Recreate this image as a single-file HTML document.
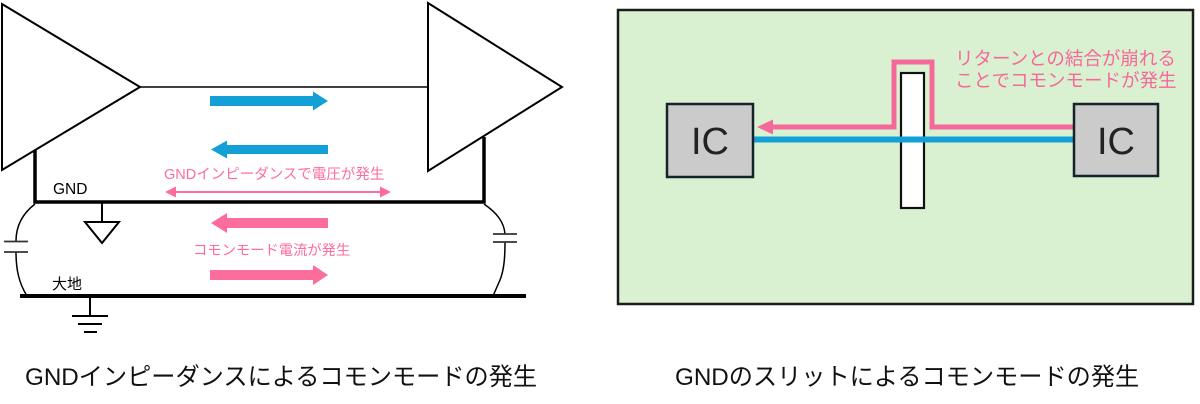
<!DOCTYPE html>
<html><head><meta charset="utf-8">
<style>
html,body{margin:0;padding:0;background:#fff;}
svg{display:block;}
text{font-family:"Liberation Sans","Noto Sans CJK JP",sans-serif;}
</style></head>
<body>
<svg width="1200" height="404" viewBox="0 0 1200 404" xmlns="http://www.w3.org/2000/svg">
<!-- LEFT PANEL -->
<line x1="140" y1="87" x2="428" y2="87" stroke="#000" stroke-width="1.5"/>
<polygon points="2,4 140,87 2,170" fill="#fff" stroke="#000" stroke-width="2"/>
<polygon points="428,3 562,87 428,171" fill="#fff" stroke="#000" stroke-width="2"/>
<polyline points="35,150 35,202 484,202 484,137" fill="none" stroke="#000" stroke-width="3.5"/>
<text x="53" y="194" font-size="15.5" fill="#000">GND</text>
<line x1="102" y1="202" x2="102" y2="222" stroke="#000" stroke-width="2"/>
<polygon points="85,222 119,222 102,243" fill="#fff" stroke="#000" stroke-width="2"/>
<line x1="20" y1="296" x2="526" y2="296" stroke="#000" stroke-width="4"/>
<text x="52" y="289" font-size="15" fill="#000">大地</text>
<line x1="90" y1="296" x2="90" y2="316" stroke="#000" stroke-width="2"/>
<line x1="72" y1="316" x2="108" y2="316" stroke="#000" stroke-width="2"/>
<line x1="78" y1="324" x2="102" y2="324" stroke="#000" stroke-width="2"/>
<line x1="84" y1="332" x2="97" y2="332" stroke="#000" stroke-width="2"/>
<path d="M35,204 C22,214 16,226 16,241" fill="none" stroke="#000" stroke-width="1.5"/>
<path d="M16,252 C16,270 19,283 27,296" fill="none" stroke="#000" stroke-width="1.5"/>
<line x1="4" y1="241.5" x2="28" y2="241.5" stroke="#333" stroke-width="1.8"/>
<line x1="4" y1="252" x2="28" y2="252" stroke="#333" stroke-width="1.8"/>
<path d="M484,204 C497,213 504,222 505,234" fill="none" stroke="#000" stroke-width="1.5"/>
<path d="M505,242 C505,258 504,270 500,280 L493,296" fill="none" stroke="#000" stroke-width="1.5"/>
<line x1="493" y1="234" x2="517" y2="234" stroke="#333" stroke-width="1.8"/>
<line x1="493" y1="242" x2="517" y2="242" stroke="#333" stroke-width="1.8"/>
<polygon points="210,96 313,96 313,91.5 328,101 313,110.5 313,106 210,106" fill="#13a0d6"/>
<polygon points="328,145 227,145 227,140.5 211,149.5 227,158.5 227,154 328,154" fill="#13a0d6"/>
<text x="164" y="179" font-size="14.5" fill="#fd6d9c">GNDインピーダンスで電圧が発生</text>
<line x1="172" y1="192" x2="384" y2="192" stroke="#fd6d9c" stroke-width="2"/>
<polygon points="165,192 176,186.5 176,197.5" fill="#fd6d9c"/>
<polygon points="391,192 380,186.5 380,197.5" fill="#fd6d9c"/>
<polygon points="328,218 227,218 227,213 211,223 227,233 227,228 328,228" fill="#fd6d9c"/>
<text x="193" y="255" font-size="14.3" fill="#fd6d9c">コモンモード電流が発生</text>
<polygon points="210,270 313,270 313,265 328,275 313,285 313,280 210,280" fill="#fd6d9c"/>

<!-- RIGHT PANEL -->
<rect x="618" y="10" width="575" height="294" fill="#daf1d1" stroke="#1c1c1c" stroke-width="2.5"/>
<rect x="901" y="73" width="23" height="135" fill="#fff" stroke="#111" stroke-width="2.2"/>
<line x1="753" y1="139.5" x2="1074" y2="139.5" stroke="#13a0d6" stroke-width="6"/>
<polyline points="1074,127 932,127 932,62 894,62 894,127 770,127" fill="none" stroke="#f5699a" stroke-width="5"/>
<polygon points="757,127 773,119.5 773,134.5" fill="#f5699a"/>
<rect x="667" y="104" width="86" height="73" fill="#cbcbcb" stroke="#16232a" stroke-width="2.5"/>
<text x="710" y="154" font-size="38" fill="#222" text-anchor="middle">IC</text>
<rect x="1074" y="104" width="84" height="72" fill="#cbcbcb" stroke="#16232a" stroke-width="2.5"/>
<text x="1116" y="154" font-size="38" fill="#222" text-anchor="middle">IC</text>
<text x="955" y="65" font-size="18.5" fill="#f5699a">リターンとの結合が崩れる</text>
<text x="955" y="87" font-size="18.5" fill="#f5699a">ことでコモンモードが発生</text>

<!-- CAPTIONS -->
<text x="25" y="385" font-size="24.2" fill="#111">GNDインピーダンスによるコモンモードの発生</text>
<text x="675" y="385" font-size="24.2" fill="#111">GNDのスリットによるコモンモードの発生</text>
</svg>
</body></html>
